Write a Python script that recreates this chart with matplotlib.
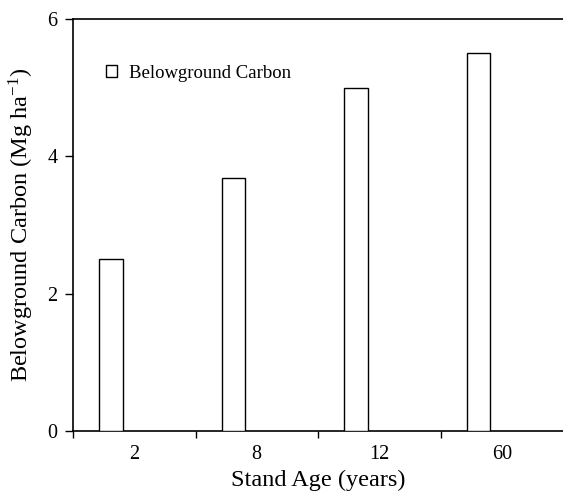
import matplotlib
matplotlib.use("Agg")
import matplotlib.pyplot as plt
from matplotlib.ticker import FixedLocator
import numpy as np

# 数据
stand_age = ["2", "8", "12", "60"]
below_carbon = [2.5, 3.69, 4.99, 5.5]

plt.rcParams['font.family'] = ['Liberation Serif', 'DejaVu Serif']
plt.rcParams['mathtext.fontset'] = 'stix'

fig = plt.figure(figsize=(5.63, 4.93), dpi=100)
ax = fig.add_axes([73 / 563, 62 / 493, 490 / 563, 412 / 493])

x = np.arange(len(stand_age))
bar_w = 0.19
ax.bar(x - bar_w / 2 - 0.095, below_carbon, width=bar_w, facecolor="white",
       edgecolor="black", linewidth=1.0, label="Belowground Carbon", zorder=3)

ax.set_xlim(-0.5, len(stand_age) - 0.5)
ax.set_ylim(0, 6)
ax.set_yticks([0, 2, 4, 6])
ax.set_xticks(x)
ax.set_xticklabels(stand_age)
ax.xaxis.set_minor_locator(FixedLocator(np.arange(-0.5, len(stand_age) - 1, 1.0)))
ax.tick_params(axis="x", which="major", length=0, pad=10, labelsize=14.5)
ax.tick_params(axis="x", which="minor", length=5, width=1.0, direction="out")
ax.tick_params(axis="y", which="major", length=6, width=1.0, direction="out", pad=5, labelsize=14.5)

ax.spines["right"].set_visible(False)
for s in ["left", "top", "bottom"]:
    ax.spines[s].set_linewidth(1.2)

ax.set_xlabel("Stand Age (years)", fontsize=17.5, labelpad=4)
ax.set_ylabel("Belowground Carbon (Mg ha$^{\\mathregular{-1}}$)", fontsize=17.5, labelpad=8)

ax.legend(loc="upper left", bbox_to_anchor=(0.033, 0.93), frameon=False, fontsize=13.5,
          handlelength=0.6, handleheight=0.6, handletextpad=0.6)

fig.savefig("out.png", dpi=100)
